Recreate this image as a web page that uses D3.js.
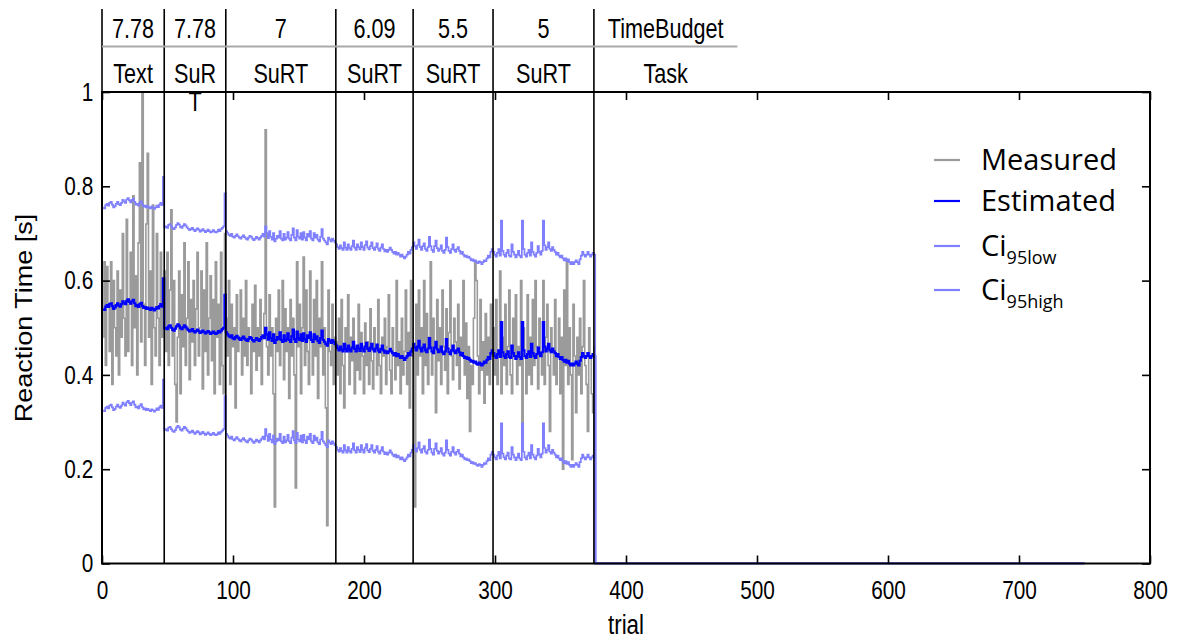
<!DOCTYPE html>
<html>
<head>
<meta charset="utf-8">
<script src="https://cdn.jsdelivr.net/npm/d3@7"></script>
<style>
  html, body { margin: 0; padding: 0; background: #fff; }
  svg { display: block; font-family: "Liberation Sans", Arial, sans-serif; }
</style>
</head>
<body>
<svg id="chart" width="1178" height="642"></svg>
<script>
// Reaction times per trial (trial 1 .. 376), in seconds
const measured = [
  // Text
  0.48, 0.64, 0.42, 0.63, 0.55, 0.45, 0.64, 0.38, 0.60, 0.50,
  0.44, 0.62, 0.40, 0.58, 0.48, 0.70, 0.52, 0.44, 0.73, 0.45,
  0.55, 0.66, 0.42, 0.78, 0.50, 0.61, 0.40, 0.68, 0.85, 0.47,
  1.00, 0.55, 0.42, 0.72, 0.87, 0.48, 0.62, 0.38, 0.76, 0.50,
  0.44, 0.70, 0.52, 0.42, 0.66, 0.48, 0.58,
  // SuRT 7.78
  0.62, 0.45, 0.66, 0.42, 0.58, 0.75, 0.44, 0.60, 0.38, 0.30,
  0.48, 0.62, 0.36, 0.57, 0.46, 0.68, 0.42, 0.52, 0.64, 0.39,
  0.56, 0.47, 0.60, 0.42, 0.54, 0.66, 0.44, 0.50, 0.62, 0.37,
  0.58, 0.45, 0.68, 0.40, 0.52, 0.61, 0.43, 0.56, 0.36, 0.64,
  0.48, 0.55, 0.38, 0.66, 0.42, 0.36, 0.70,
  // SuRT 7
  0.52, 0.44, 0.60, 0.38, 0.55, 0.46, 0.50, 0.33, 0.57, 0.45,
  0.48, 0.58, 0.40, 0.52, 0.44, 0.60, 0.42, 0.50, 0.47, 0.36,
  0.55, 0.45, 0.59, 0.41, 0.50, 0.44, 0.56, 0.38, 0.48, 0.53,
  0.92, 0.46, 0.40, 0.57, 0.44, 0.50, 0.36, 0.12, 0.52, 0.45,
  0.58, 0.42, 0.49, 0.60, 0.39, 0.54, 0.45, 0.50, 0.35, 0.56,
  0.44, 0.52, 0.40, 0.16, 0.64, 0.46, 0.55, 0.36, 0.50, 0.65,
  0.42, 0.58, 0.45, 0.38, 0.62, 0.48, 0.40, 0.56, 0.44, 0.60,
  0.35, 0.52, 0.46, 0.64, 0.40, 0.50, 0.33, 0.08, 0.58, 0.45,
  0.42, 0.55, 0.38, 0.48,
  // SuRT 6.09
  0.47, 0.40, 0.52, 0.36, 0.56, 0.42, 0.33, 0.50, 0.45, 0.57,
  0.38, 0.48, 0.43, 0.52, 0.36, 0.46, 0.41, 0.55, 0.39, 0.49,
  0.44, 0.36, 0.51, 0.42, 0.47, 0.38, 0.54, 0.43, 0.37, 0.50,
  0.45, 0.40, 0.56, 0.42, 0.36, 0.48, 0.44, 0.52, 0.38, 0.46,
  0.57, 0.41, 0.36, 0.50, 0.44, 0.39, 0.60, 0.42, 0.47, 0.36,
  0.52, 0.40, 0.45, 0.58, 0.38, 0.49, 0.33, 0.60, 0.44,
  // SuRT 5.5
  0.46, 0.12, 0.55, 0.40, 0.58, 0.44, 0.50, 0.36, 0.60, 0.42,
  0.53, 0.38, 0.48, 0.64, 0.40, 0.52, 0.45, 0.32, 0.56, 0.43,
  0.50, 0.38, 0.58, 0.46, 0.41, 0.54, 0.36, 0.49, 0.60, 0.44,
  0.39, 0.52, 0.47, 0.42, 0.55, 0.37, 0.48, 0.44, 0.60, 0.40,
  0.51, 0.35, 0.46, 0.28, 0.42, 0.38, 0.52, 0.64, 0.60, 0.44,
  0.36, 0.56, 0.41, 0.47, 0.34, 0.53, 0.40, 0.48, 0.38, 0.55,
  0.44,
  // SuRT 5
  0.50, 0.40, 0.56, 0.38, 0.44, 0.62, 0.36, 0.48, 0.42, 0.55,
  0.38, 0.46, 0.58, 0.40, 0.36, 0.52, 0.44, 0.57, 0.38, 0.46,
  0.42, 0.60, 0.24, 0.50, 0.44, 0.36, 0.57, 0.40, 0.48, 0.38,
  0.56, 0.42, 0.60, 0.46, 0.37, 0.52, 0.44, 0.40, 0.60, 0.38,
  0.48, 0.55, 0.42, 0.28, 0.50, 0.45, 0.40, 0.56, 0.38, 0.44,
  0.52, 0.36, 0.48, 0.20, 0.58, 0.42, 0.64, 0.38, 0.50, 0.40,
  0.22, 0.55, 0.44, 0.32, 0.48, 0.40, 0.52, 0.36, 0.46, 0.60,
  0.42, 0.38, 0.28, 0.50, 0.44, 0.36, 0.32, 0.46
];

const estimated = [
  0.540, 0.538, 0.545, 0.548, 0.544, 0.550, 0.552, 0.546, 0.540, 0.543,
  0.548, 0.552, 0.547, 0.545, 0.550, 0.556, 0.553, 0.550, 0.557, 0.560,
  0.555, 0.551, 0.556, 0.559, 0.552, 0.546, 0.548, 0.544, 0.550, 0.553,
  0.546, 0.542, 0.544, 0.540, 0.543, 0.540, 0.538, 0.542, 0.540, 0.537,
  0.540, 0.544, 0.541, 0.546, 0.550, 0.545, 0.605,
  0.498, 0.500, 0.497, 0.503, 0.505, 0.500, 0.496, 0.494, 0.498, 0.503,
  0.507, 0.504, 0.499, 0.497, 0.501, 0.505, 0.502, 0.498, 0.495, 0.492,
  0.494, 0.497, 0.493, 0.490, 0.493, 0.496, 0.493, 0.489, 0.491, 0.494,
  0.491, 0.488, 0.490, 0.493, 0.490, 0.487, 0.489, 0.492, 0.489, 0.487,
  0.489, 0.493, 0.490, 0.494, 0.497, 0.500, 0.570,
  0.490, 0.486, 0.482, 0.480, 0.484, 0.478, 0.476, 0.480, 0.483, 0.479,
  0.476, 0.474, 0.478, 0.481, 0.477, 0.474, 0.472, 0.476, 0.480, 0.478,
  0.474, 0.471, 0.474, 0.478, 0.475, 0.472, 0.476, 0.480, 0.484, 0.478,
  0.500, 0.486, 0.475, 0.490, 0.478, 0.472, 0.486, 0.468, 0.474, 0.480,
  0.476, 0.490, 0.474, 0.470, 0.484, 0.472, 0.476, 0.488, 0.474, 0.470,
  0.482, 0.496, 0.476, 0.470, 0.492, 0.478, 0.474, 0.486, 0.472, 0.488,
  0.476, 0.470, 0.484, 0.478, 0.490, 0.474, 0.470, 0.486, 0.476, 0.482,
  0.472, 0.468, 0.478, 0.494, 0.474, 0.470, 0.466, 0.462, 0.476, 0.472,
  0.468, 0.474, 0.470, 0.466,
  0.462, 0.456, 0.452, 0.460, 0.454, 0.450, 0.466, 0.455, 0.450, 0.462,
  0.454, 0.450, 0.458, 0.470, 0.455, 0.450, 0.462, 0.456, 0.451, 0.466,
  0.456, 0.450, 0.460, 0.468, 0.455, 0.451, 0.458, 0.466, 0.454, 0.450,
  0.456, 0.464, 0.452, 0.448, 0.455, 0.462, 0.452, 0.447, 0.450, 0.446,
  0.450, 0.455, 0.450, 0.446, 0.442, 0.446, 0.440, 0.444, 0.440, 0.436,
  0.440, 0.436, 0.432, 0.436, 0.440, 0.446, 0.442, 0.450, 0.456,
  0.466, 0.458, 0.452, 0.460, 0.472, 0.456, 0.450, 0.458, 0.464, 0.452,
  0.448, 0.456, 0.478, 0.458, 0.450, 0.446, 0.458, 0.470, 0.454, 0.448,
  0.452, 0.460, 0.448, 0.444, 0.450, 0.476, 0.456, 0.448, 0.444, 0.452,
  0.462, 0.450, 0.446, 0.452, 0.456, 0.448, 0.442, 0.446, 0.440, 0.436,
  0.438, 0.434, 0.436, 0.432, 0.428, 0.430, 0.426, 0.428, 0.424, 0.422,
  0.426, 0.424, 0.420, 0.424, 0.428, 0.426, 0.432, 0.438, 0.434, 0.446,
  0.452,
  0.446, 0.440, 0.436, 0.444, 0.452, 0.438, 0.512, 0.448, 0.440, 0.436,
  0.444, 0.450, 0.438, 0.436, 0.462, 0.446, 0.440, 0.434, 0.440, 0.448,
  0.438, 0.434, 0.512, 0.452, 0.440, 0.436, 0.444, 0.450, 0.438, 0.466,
  0.446, 0.440, 0.436, 0.444, 0.458, 0.446, 0.440, 0.448, 0.512, 0.460,
  0.450, 0.456, 0.466, 0.452, 0.448, 0.456, 0.450, 0.446, 0.440, 0.444,
  0.438, 0.434, 0.438, 0.432, 0.428, 0.432, 0.426, 0.430, 0.424, 0.420,
  0.424, 0.420, 0.424, 0.428, 0.424, 0.420, 0.430, 0.438, 0.446, 0.440,
  0.436, 0.440, 0.446, 0.440, 0.436, 0.440, 0.444, 0.440
];

const ci95low = [
  0.325, 0.323, 0.330, 0.333, 0.329, 0.335, 0.337, 0.331, 0.325, 0.328,
  0.333, 0.337, 0.332, 0.330, 0.335, 0.341, 0.338, 0.335, 0.342, 0.345,
  0.340, 0.336, 0.341, 0.344, 0.337, 0.331, 0.333, 0.329, 0.335, 0.338,
  0.331, 0.327, 0.329, 0.325, 0.328, 0.325, 0.323, 0.327, 0.325, 0.322,
  0.325, 0.329, 0.326, 0.331, 0.335, 0.330, 0.390,
  0.283, 0.285, 0.282, 0.288, 0.290, 0.285, 0.281, 0.279, 0.283, 0.288,
  0.292, 0.289, 0.284, 0.282, 0.286, 0.290, 0.287, 0.283, 0.280, 0.277,
  0.279, 0.282, 0.278, 0.275, 0.278, 0.281, 0.278, 0.274, 0.276, 0.279,
  0.276, 0.273, 0.275, 0.278, 0.275, 0.272, 0.274, 0.277, 0.274, 0.272,
  0.274, 0.278, 0.275, 0.279, 0.282, 0.285, 0.355,
  0.275, 0.271, 0.267, 0.265, 0.269, 0.263, 0.261, 0.265, 0.268, 0.264,
  0.261, 0.259, 0.263, 0.266, 0.262, 0.259, 0.257, 0.261, 0.265, 0.263,
  0.259, 0.256, 0.259, 0.263, 0.260, 0.257, 0.261, 0.265, 0.269, 0.263,
  0.285, 0.271, 0.260, 0.275, 0.263, 0.257, 0.271, 0.253, 0.259, 0.265,
  0.261, 0.275, 0.259, 0.255, 0.269, 0.257, 0.261, 0.273, 0.259, 0.255,
  0.267, 0.281, 0.261, 0.255, 0.277, 0.263, 0.259, 0.271, 0.257, 0.273,
  0.261, 0.255, 0.269, 0.263, 0.275, 0.259, 0.255, 0.271, 0.261, 0.267,
  0.257, 0.253, 0.263, 0.279, 0.259, 0.255, 0.251, 0.247, 0.261, 0.257,
  0.253, 0.259, 0.255, 0.251,
  0.247, 0.241, 0.237, 0.245, 0.239, 0.235, 0.251, 0.240, 0.235, 0.247,
  0.239, 0.235, 0.243, 0.255, 0.240, 0.235, 0.247, 0.241, 0.236, 0.251,
  0.241, 0.235, 0.245, 0.253, 0.240, 0.236, 0.243, 0.251, 0.239, 0.235,
  0.241, 0.249, 0.237, 0.233, 0.240, 0.247, 0.237, 0.232, 0.235, 0.231,
  0.235, 0.240, 0.235, 0.231, 0.227, 0.231, 0.225, 0.229, 0.225, 0.221,
  0.225, 0.221, 0.217, 0.221, 0.225, 0.231, 0.227, 0.235, 0.241,
  0.251, 0.243, 0.237, 0.245, 0.257, 0.241, 0.235, 0.243, 0.249, 0.237,
  0.233, 0.241, 0.263, 0.243, 0.235, 0.231, 0.243, 0.255, 0.239, 0.233,
  0.237, 0.245, 0.233, 0.229, 0.235, 0.261, 0.241, 0.233, 0.229, 0.237,
  0.247, 0.235, 0.231, 0.237, 0.241, 0.233, 0.227, 0.231, 0.225, 0.221,
  0.223, 0.219, 0.221, 0.217, 0.213, 0.215, 0.211, 0.213, 0.209, 0.207,
  0.211, 0.209, 0.205, 0.209, 0.213, 0.211, 0.217, 0.223, 0.219, 0.231,
  0.237,
  0.231, 0.225, 0.221, 0.229, 0.237, 0.223, 0.297, 0.233, 0.225, 0.221,
  0.229, 0.235, 0.223, 0.221, 0.247, 0.231, 0.225, 0.219, 0.225, 0.233,
  0.223, 0.219, 0.297, 0.237, 0.225, 0.221, 0.229, 0.235, 0.223, 0.251,
  0.231, 0.225, 0.221, 0.229, 0.243, 0.231, 0.225, 0.233, 0.297, 0.245,
  0.235, 0.241, 0.251, 0.237, 0.233, 0.241, 0.235, 0.231, 0.225, 0.229,
  0.223, 0.219, 0.223, 0.217, 0.213, 0.217, 0.211, 0.215, 0.209, 0.205,
  0.209, 0.205, 0.209, 0.213, 0.209, 0.205, 0.215, 0.223, 0.231, 0.225,
  0.221, 0.225, 0.231, 0.225, 0.221, 0.225, 0.229, 0.225
];

const ci95high = [
  0.755, 0.753, 0.760, 0.763, 0.759, 0.765, 0.767, 0.761, 0.755, 0.758,
  0.763, 0.767, 0.762, 0.760, 0.765, 0.771, 0.768, 0.765, 0.772, 0.775,
  0.770, 0.766, 0.771, 0.774, 0.767, 0.761, 0.763, 0.759, 0.765, 0.768,
  0.761, 0.757, 0.759, 0.755, 0.758, 0.755, 0.753, 0.757, 0.755, 0.752,
  0.755, 0.759, 0.756, 0.761, 0.765, 0.760, 0.820,
  0.713, 0.715, 0.712, 0.718, 0.720, 0.715, 0.711, 0.709, 0.713, 0.718,
  0.722, 0.719, 0.714, 0.712, 0.716, 0.720, 0.717, 0.713, 0.710, 0.707,
  0.709, 0.712, 0.708, 0.705, 0.708, 0.711, 0.708, 0.704, 0.706, 0.709,
  0.706, 0.703, 0.705, 0.708, 0.705, 0.702, 0.704, 0.707, 0.704, 0.702,
  0.704, 0.708, 0.705, 0.709, 0.712, 0.715, 0.785,
  0.705, 0.701, 0.697, 0.695, 0.699, 0.693, 0.691, 0.695, 0.698, 0.694,
  0.691, 0.689, 0.693, 0.696, 0.692, 0.689, 0.687, 0.691, 0.695, 0.693,
  0.689, 0.686, 0.689, 0.693, 0.690, 0.687, 0.691, 0.695, 0.699, 0.693,
  0.715, 0.701, 0.690, 0.705, 0.693, 0.687, 0.701, 0.683, 0.689, 0.695,
  0.691, 0.705, 0.689, 0.685, 0.699, 0.687, 0.691, 0.703, 0.689, 0.685,
  0.697, 0.711, 0.691, 0.685, 0.707, 0.693, 0.689, 0.701, 0.687, 0.703,
  0.691, 0.685, 0.699, 0.693, 0.705, 0.689, 0.685, 0.701, 0.691, 0.697,
  0.687, 0.683, 0.693, 0.709, 0.689, 0.685, 0.681, 0.677, 0.691, 0.687,
  0.683, 0.689, 0.685, 0.681,
  0.677, 0.671, 0.667, 0.675, 0.669, 0.665, 0.681, 0.670, 0.665, 0.677,
  0.669, 0.665, 0.673, 0.685, 0.670, 0.665, 0.677, 0.671, 0.666, 0.681,
  0.671, 0.665, 0.675, 0.683, 0.670, 0.666, 0.673, 0.681, 0.669, 0.665,
  0.671, 0.679, 0.667, 0.663, 0.670, 0.677, 0.667, 0.662, 0.665, 0.661,
  0.665, 0.670, 0.665, 0.661, 0.657, 0.661, 0.655, 0.659, 0.655, 0.651,
  0.655, 0.651, 0.647, 0.651, 0.655, 0.661, 0.657, 0.665, 0.671,
  0.681, 0.673, 0.667, 0.675, 0.687, 0.671, 0.665, 0.673, 0.679, 0.667,
  0.663, 0.671, 0.693, 0.673, 0.665, 0.661, 0.673, 0.685, 0.669, 0.663,
  0.667, 0.675, 0.663, 0.659, 0.665, 0.691, 0.671, 0.663, 0.659, 0.667,
  0.677, 0.665, 0.661, 0.667, 0.671, 0.663, 0.657, 0.661, 0.655, 0.651,
  0.653, 0.649, 0.651, 0.647, 0.643, 0.645, 0.641, 0.643, 0.639, 0.637,
  0.641, 0.639, 0.635, 0.639, 0.643, 0.641, 0.647, 0.653, 0.649, 0.661,
  0.667,
  0.661, 0.655, 0.651, 0.659, 0.667, 0.653, 0.727, 0.663, 0.655, 0.651,
  0.659, 0.665, 0.653, 0.651, 0.677, 0.661, 0.655, 0.649, 0.655, 0.663,
  0.653, 0.649, 0.727, 0.667, 0.655, 0.651, 0.659, 0.665, 0.653, 0.681,
  0.661, 0.655, 0.651, 0.659, 0.673, 0.661, 0.655, 0.663, 0.727, 0.675,
  0.665, 0.671, 0.681, 0.667, 0.663, 0.671, 0.665, 0.661, 0.655, 0.659,
  0.653, 0.649, 0.653, 0.647, 0.643, 0.647, 0.641, 0.645, 0.639, 0.635,
  0.639, 0.635, 0.639, 0.643, 0.639, 0.635, 0.645, 0.653, 0.661, 0.655,
  0.651, 0.655, 0.661, 0.655, 0.651, 0.655, 0.659, 0.655
];

// After the last recorded trial the logged series read zero up to trial 750
const idleTrials = [377, 750];
const idleValues = [0, 0];

// Block layout: boundaries (in trials) and the two header rows
const blockEdges = [0, 47.5, 94.5, 178.5, 237.5, 298.5, 375.5, 485];
const blockTimeBudget = ["7.78", "7.78", "7", "6.09", "5.5", "5", "TimeBudget"];
const blockTask = [["Text"], ["SuR", "T"], ["SuRT"], ["SuRT"], ["SuRT"], ["SuRT"], ["Task"]];

const xTicks = [0, 100, 200, 300, 400, 500, 600, 700, 800];
const yTicks = [0, 0.2, 0.4, 0.6, 0.8, 1];

const legendItems = [
  { key: "measured", label: "Measured", sub: "" },
  { key: "estimated", label: "Estimated", sub: "" },
  { key: "low", label: "Ci", sub: "95low" },
  { key: "high", label: "Ci", sub: "95high" }
];

const colors = { measured: "#9b9b9b", estimated: "#0000ff", low: "#8080ff", high: "#8080ff" };
const widths = { measured: 1.6, estimated: 2.2, low: 1.7, high: 1.7 };

// Figure lettering is set in a narrowed sans face
const squeeze = 0.8;

// ---------------------------------------------------------------
const svg = d3.select("#chart");
const plotLeft = 102, plotRight = 1150, plotTop = 92, plotBottom = 563.5;

const x = d3.scaleLinear().domain([0, 800]).range([plotLeft, plotRight]);
const y = d3.scaleLinear().domain([0, 1]).range([plotBottom, plotTop]);

function toPoints(values) {
  const pts = values.map((v, i) => [i + 1, v]);
  idleTrials.forEach((t, i) => pts.push([t, idleValues[i]]));
  return pts;
}

const line = d3.line()
  .x(d => x(d[0]))
  .y(d => y(d[1]))
  .curve(d3.curveStep);

const plot = svg.append("g");
plot.append("clipPath").attr("id", "plotClip")
  .append("rect").attr("x", plotLeft).attr("y", plotTop - 1)
  .attr("width", plotRight - plotLeft).attr("height", plotBottom - plotTop + 2);

const seriesLayer = plot.append("g").attr("clip-path", "url(#plotClip)");
[["measured", measured], ["estimated", estimated], ["low", ci95low], ["high", ci95high]]
  .forEach(([key, values]) => {
    seriesLayer.append("path")
      .attr("d", line(toPoints(values)))
      .attr("fill", "none")
      .attr("stroke", colors[key])
      .attr("stroke-width", widths[key])
      .attr("stroke-linejoin", "miter");
  });

// Block separators run through the header and the plot
const headerTop = 9;
blockEdges.slice(0, -1).forEach(t => {
  svg.append("line")
    .attr("x1", x(t)).attr("x2", x(t))
    .attr("y1", headerTop).attr("y2", plotBottom)
    .attr("stroke", "#000").attr("stroke-width", 1.6);
});

// Header table
svg.append("line")
  .attr("x1", x(blockEdges[0])).attr("x2", x(blockEdges[blockEdges.length - 1]))
  .attr("y1", 46.5).attr("y2", 46.5)
  .attr("stroke", "#aaaaaa").attr("stroke-width", 2);

blockTimeBudget.forEach((label, i) => {
  const cx = (x(blockEdges[i]) + x(blockEdges[i + 1])) / 2;
  svg.append("text")
    .attr("transform", `translate(${cx},38) scale(${squeeze},1)`)
    .attr("text-anchor", "middle")
    .attr("font-size", 27)
    .attr("fill", "#000")
    .text(label);
  const t = svg.append("text")
    .attr("transform", `translate(${cx},83) scale(${squeeze},1)`)
    .attr("text-anchor", "middle")
    .attr("font-size", 27)
    .attr("fill", "#000");
  blockTask[i].forEach((part, k) => {
    t.append("tspan").attr("x", 0).attr("dy", k === 0 ? 0 : 28).text(part);
  });
});

// Axes with inward ticks
const axisBottom = d3.axisBottom(x).tickValues(xTicks).tickSize(-8).tickPadding(17)
  .tickFormat(d3.format("d"));
const axisTop = d3.axisTop(x).tickValues(xTicks).tickSize(-8).tickFormat("");
const axisLeft = d3.axisLeft(y).tickValues(yTicks).tickSize(-8).tickPadding(11)
  .tickFormat(d => d === 0 || d === 1 ? String(d) : d.toFixed(1));
const axisRight = d3.axisRight(y).tickValues(yTicks).tickSize(-8).tickFormat("");

function styleAxis(g) {
  g.select(".domain").remove();
  g.selectAll(".tick line").attr("stroke", "#000").attr("stroke-width", 1.6);
  g.selectAll(".tick text")
    .attr("font-family", "'Liberation Sans', Arial, sans-serif")
    .attr("font-size", 26).attr("fill", "#000")
    .attr("transform", `scale(${squeeze},1)`);
}

svg.append("g").attr("transform", `translate(0,${plotBottom})`).call(axisBottom).call(styleAxis);
svg.append("g").attr("transform", `translate(0,${plotTop})`).call(axisTop).call(styleAxis);
svg.append("g").attr("transform", `translate(${plotLeft},0)`).call(axisLeft).call(styleAxis);
svg.append("g").attr("transform", `translate(${plotRight},0)`).call(axisRight).call(styleAxis);

// Plot frame
svg.append("rect")
  .attr("x", plotLeft).attr("y", plotTop)
  .attr("width", plotRight - plotLeft).attr("height", plotBottom - plotTop)
  .attr("fill", "none").attr("stroke", "#000").attr("stroke-width", 2);

// Axis titles
svg.append("text")
  .attr("transform", `translate(${(plotLeft + plotRight) / 2},634) scale(${squeeze},1)`)
  .attr("text-anchor", "middle").attr("font-size", 28).attr("fill", "#000")
  .text("trial");
svg.append("text")
  .attr("transform", `translate(32,318) scale(0.9,1) rotate(-90)`)
  .attr("text-anchor", "middle").attr("font-size", 27).attr("fill", "#000")
  .text("Reaction Time [s]");

// Legend
const legendY = [160, 201, 246, 290];
const legend = svg.append("g").attr("font-family", "'Open Sans', 'Noto Sans', sans-serif");
legendItems.forEach((item, i) => {
  const ly = legendY[i];
  legend.append("line")
    .attr("x1", 934).attr("x2", 960).attr("y1", ly).attr("y2", ly)
    .attr("stroke", colors[item.key]).attr("stroke-width", 2.2);
  const t = legend.append("text")
    .attr("x", 981).attr("y", ly + 10)
    .attr("font-size", 29).attr("fill", "#000");
  t.append("tspan").text(item.label);
  if (item.sub) {
    t.append("tspan").attr("font-size", 18).attr("dy", 8).text(item.sub);
  }
});
</script>
</body>
</html>
